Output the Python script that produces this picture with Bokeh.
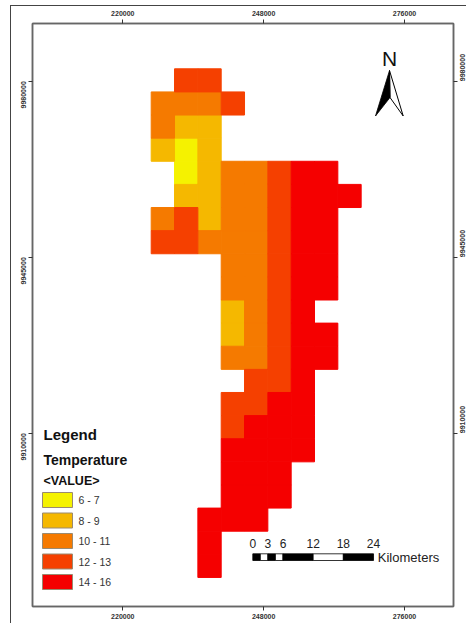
from bokeh.plotting import figure
from bokeh.models import LinearAxis, FixedTicker, NumeralTickFormatter
from bokeh.core.properties import value
from bokeh.embed import file_html
from bokeh.resources import INLINE
import math

# ---- data -------------------------------------------------------------
class_labels = ["6 - 7", "8 - 9", "10 - 11", "12 - 13", "14 - 16"]
class_colors = ["#F5F200", "#F5B800", "#F57A00", "#F54000", "#F50000"]

# raster rows, north to south: {class index: columns}
row_00 = {3: [1, 2]}
row_01 = {2: [0, 1, 2], 3: [3]}
row_02 = {2: [0], 1: [1, 2]}
row_03 = {1: [0, 2], 0: [1]}
row_04 = {0: [1], 1: [2], 2: [3, 4], 3: [5], 4: [6, 7]}
row_05 = {1: [1, 2], 2: [3, 4], 3: [5], 4: [6, 7, 8]}
row_06 = {2: [0, 3, 4], 3: [1, 5], 1: [2], 4: [6, 7]}
row_07 = {3: [0, 1, 5], 2: [2, 3, 4], 4: [6, 7]}
row_08 = {2: [3, 4], 3: [5], 4: [6, 7]}
row_09 = {2: [3, 4], 3: [5], 4: [6, 7]}
row_10 = {1: [3], 2: [4], 3: [5], 4: [6]}
row_11 = {1: [3], 2: [4], 3: [5], 4: [6, 7]}
row_12 = {2: [3, 4], 3: [5], 4: [6, 7]}
row_13 = {3: [4, 5], 4: [6]}
row_14 = {3: [3, 4], 4: [5, 6]}
row_15 = {3: [3], 4: [4, 5, 6]}
row_16 = {4: [3, 4, 5, 6]}
row_17 = {4: [3, 4, 5]}
row_18 = {4: [3, 4, 5]}
row_19 = {4: [2, 3, 4]}
row_20 = {4: [2]}
row_21 = {4: [2]}
rows = [row_00, row_01, row_02, row_03, row_04, row_05, row_06, row_07, row_08,
        row_09, row_10, row_11, row_12, row_13, row_14, row_15, row_16, row_17,
        row_18, row_19, row_20, row_21]

x_ticks = [220000, 248000, 276000]
y_ticks = [9910000, 9945000, 9980000]
scale_km = [0, 1.5, 3, 4.5, 6, 12, 18, 24]
scale_labels = [0, 3, 6, 12, 18, 24]

# ---- georeferencing ----------------------------------------------------
PAGE_L, PAGE_T = 10, 5              # where the figure's corner sits on the page
NUDGE = 1                           # border offset of the frame
W, H = 456, 618
F_L, F_T, F_R, F_B = 32, 23, 453, 606
SX = (404.0 - 122.3) / 56000.0      # px per metre
SY = (432.7 - 80.7) / 70000.0


def gx(px):
    return 220000 + (px - 122.3) / SX


def gy(py):
    return 9980000 - (py - 80.7) / SY


ORIGIN_X, ORIGIN_Y = gx(150.7), gy(68.3)
CELL_W = 23.33 / SX
CELL_H = 23.12 / SY

p = figure(width=W, height=H, output_backend="svg", toolbar_location=None,
           x_range=(gx(F_L), gx(F_R)), y_range=(gy(F_B), gy(F_T)),
           x_axis_location=None, y_axis_location=None,
           min_border_left=F_L - PAGE_L - NUDGE, min_border_right=PAGE_L + W - F_R + NUDGE,
           min_border_top=F_T - PAGE_T - NUDGE, min_border_bottom=PAGE_T + H - F_B + NUDGE,
           frame_width=F_R - F_L, frame_height=F_B - F_T)
p.margin = (PAGE_T, 0, 0, PAGE_L)
p.styles = {"border-left": "1px solid #444444", "border-top": "1px solid #444444",
            "box-sizing": "border-box"}
p.grid.visible = False
p.outline_line_color = "#666666"
p.outline_line_width = 1.5
p.background_fill_color = "white"

# ---- raster cells ------------------------------------------------------
for k, color in enumerate(class_colors):
    L, R, T, B = [], [], [], []
    for r, row in enumerate(rows):
        for c in row.get(k, []):
            L.append(ORIGIN_X + c * CELL_W)
            R.append(ORIGIN_X + (c + 1) * CELL_W)
            T.append(ORIGIN_Y - r * CELL_H)
            B.append(ORIGIN_Y - (r + 1) * CELL_H)
    p.quad(left=L, right=R, top=T, bottom=B, fill_color=color, line_color=color,
           line_width=1)

# ---- axes --------------------------------------------------------------
for side, ticks, vertical, standoff in (("above", x_ticks, False, 4), ("below", x_ticks, False, 3),
                                        ("left", y_ticks, True, 5), ("right", y_ticks, True, 5)):
    ax = LinearAxis(ticker=FixedTicker(ticks=ticks),
                    formatter=NumeralTickFormatter(format="0"))
    ax.axis_line_color = "#666666"
    ax.axis_line_width = 1.5
    ax.major_tick_line_color = "#333333"
    ax.major_tick_in = 0
    ax.major_tick_out = 4
    ax.minor_tick_line_color = None
    ax.major_label_text_font = "Liberation Sans"
    ax.major_label_text_font_size = "7px"
    ax.major_label_text_font_style = "bold"
    ax.major_label_text_color = "#333333"
    ax.major_label_standoff = standoff
    if vertical:
        ax.major_label_orientation = math.pi / 2
    p.add_layout(ax, side)


def put(px, py, s, size, style="normal", color="#111111", align="left"):
    p.text(x=[gx(px)], y=[gy(py)], text=[s], text_font=value("Liberation Sans"),
           text_font_size=size, text_font_style=style, text_color=color,
           text_align=align, text_baseline="middle")


# ---- legend ------------------------------------------------------------
put(43, 434, "Legend", "15px", "bold")
put(43, 459, "Temperature", "14px", "bold")
put(43, 480, "<VALUE>", "12.5px", "bold")
for i, (label, color) in enumerate(zip(class_labels, class_colors)):
    top_px = 492 + i * 20.5
    p.quad(left=[gx(42)], right=[gx(72)], top=[gy(top_px)], bottom=[gy(top_px + 15)],
           fill_color=color, line_color="#9A8A70", line_width=1)
    put(78, top_px + 7.5, label, "10.5px", color="#333333")

# ---- scale bar (drawn in kilometres) -----------------------------------
BAR_X = gx(252.3)
BAR_TOP, BAR_BOT = gy(553.3), gy(560)
for i in range(len(scale_km) - 1):
    p.quad(left=[BAR_X + scale_km[i] * 1000], right=[BAR_X + scale_km[i + 1] * 1000],
           top=[BAR_TOP], bottom=[BAR_BOT],
           fill_color="black" if i % 2 == 0 else "white", line_color="black",
           line_width=0.8)
for km in scale_labels:
    p.text(x=[BAR_X + km * 1000], y=[gy(543)], text=[str(km)],
           text_font=value("Liberation Sans"), text_font_size="12px",
           text_color="#222222", text_align="center", text_baseline="middle")
put(377.3, 556.7, "Kilometers", "13px", color="#222222")

# ---- north arrow -------------------------------------------------------
put(389, 58, "N", "21px", align="center")
p.patch(x=[gx(389), gx(402.7), gx(389.5)], y=[gy(70), gy(115.5), gy(97)],
        fill_color="white", line_color="black", line_width=1)
p.patch(x=[gx(389), gx(375), gx(389.5)], y=[gy(70), gy(115.5), gy(97)],
        fill_color="black", line_color="black", line_width=0.8)

open("out.html", "w").write(file_html(p, INLINE))
